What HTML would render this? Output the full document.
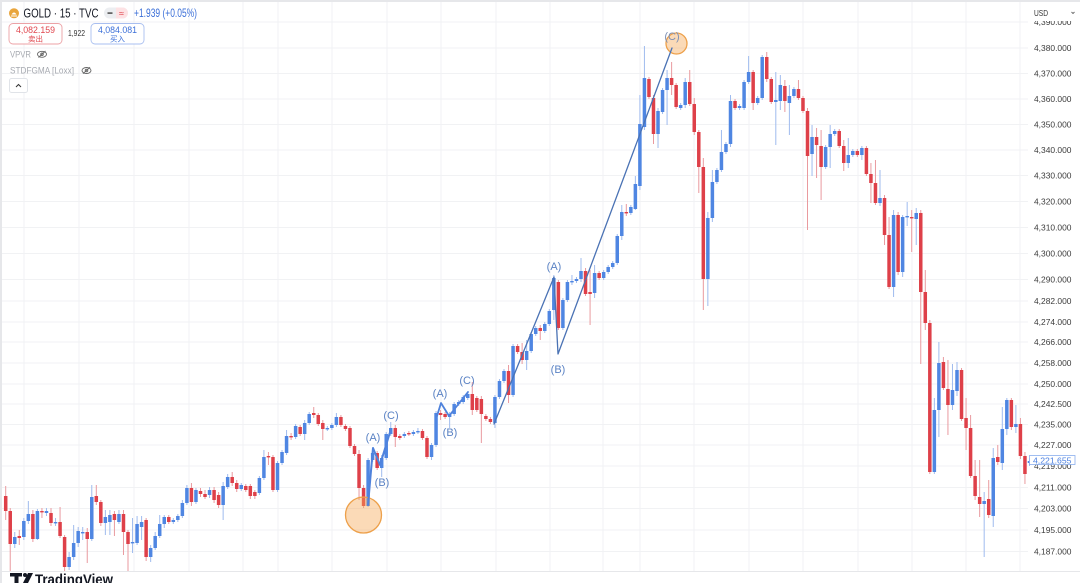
<!DOCTYPE html>
<html><head><meta charset="utf-8">
<style>
html,body{margin:0;padding:0;background:#fff;width:1080px;height:583px;overflow:hidden;}
svg{display:block;font-family:"Liberation Sans","Noto Sans CJK SC",sans-serif;}
</style></head><body>
<svg id="c" width="1080" height="583" viewBox="0 0 1080 583" xmlns="http://www.w3.org/2000/svg">
<rect width="1080" height="583" fill="#fff"/>
<g stroke="#f1f2f4" stroke-width="1">
<line x1="0" x2="1028" y1="22" y2="22"/><line x1="0" x2="1028" y1="48" y2="48"/><line x1="0" x2="1028" y1="73.5" y2="73.5"/><line x1="0" x2="1028" y1="99" y2="99"/><line x1="0" x2="1028" y1="124.5" y2="124.5"/><line x1="0" x2="1028" y1="150" y2="150"/><line x1="0" x2="1028" y1="175.5" y2="175.5"/><line x1="0" x2="1028" y1="201.5" y2="201.5"/><line x1="0" x2="1028" y1="227.5" y2="227.5"/><line x1="0" x2="1028" y1="253.5" y2="253.5"/><line x1="0" x2="1028" y1="279.5" y2="279.5"/><line x1="0" x2="1028" y1="301" y2="301"/><line x1="0" x2="1028" y1="322" y2="322"/><line x1="0" x2="1028" y1="342" y2="342"/><line x1="0" x2="1028" y1="363" y2="363"/><line x1="0" x2="1028" y1="384" y2="384"/><line x1="0" x2="1028" y1="404" y2="404"/><line x1="0" x2="1028" y1="424.5" y2="424.5"/><line x1="0" x2="1028" y1="445" y2="445"/><line x1="0" x2="1028" y1="466" y2="466"/><line x1="0" x2="1028" y1="487.5" y2="487.5"/><line x1="0" x2="1028" y1="508.5" y2="508.5"/><line x1="0" x2="1028" y1="530" y2="530"/><line x1="0" x2="1028" y1="551.5" y2="551.5"/>
<line y1="0" y2="571" x1="24" x2="24"/><line y1="0" y2="571" x1="79" x2="79"/><line y1="0" y2="571" x1="134" x2="134"/><line y1="0" y2="571" x1="189" x2="189"/><line y1="0" y2="571" x1="243" x2="243"/><line y1="0" y2="571" x1="278" x2="278"/><line y1="0" y2="571" x1="332" x2="332"/><line y1="0" y2="571" x1="387" x2="387"/><line y1="0" y2="571" x1="441" x2="441"/><line y1="0" y2="571" x1="496" x2="496"/><line y1="0" y2="571" x1="550" x2="550"/><line y1="0" y2="571" x1="603" x2="603"/><line y1="0" y2="571" x1="640" x2="640"/><line y1="0" y2="571" x1="694" x2="694"/><line y1="0" y2="571" x1="749" x2="749"/><line y1="0" y2="571" x1="803" x2="803"/><line y1="0" y2="571" x1="858" x2="858"/><line y1="0" y2="571" x1="912" x2="912"/><line y1="0" y2="571" x1="966" x2="966"/><line y1="0" y2="571" x1="1020" x2="1020"/>
</g>
<g id="candles"></g>

<!-- annotations -->
<circle cx="363.5" cy="515" r="18" fill="rgba(246,168,84,0.42)" stroke="#eda04a" stroke-width="1.3"/>
<circle cx="676.5" cy="43.5" r="10.5" fill="rgba(246,168,84,0.42)" stroke="#eda04a" stroke-width="1.3"/>
<g fill="none" stroke-linejoin="round" stroke-linecap="round">
<polyline points="368,505 373,448 380,465 391,429" stroke="#4f82dc" stroke-width="2"/>
<polyline points="437,416 441,403 449,416 468,392" stroke="#4f82dc" stroke-width="1.8"/>
<polyline points="494,424 554,277 558,354 672,48" stroke="#4a72b4" stroke-width="1.3"/>
</g>
<g font-size="11" fill="#5a82c4" text-anchor="middle">
<text x="373" y="441">(A)</text><text x="382" y="486">(B)</text><text x="391" y="419">(C)</text>
<text x="440" y="397">(A)</text><text x="450" y="436">(B)</text><text x="467" y="384">(C)</text>
<text x="554" y="270">(A)</text><text x="558" y="373">(B)</text>
<text x="672" y="40" fill="#7c8fb4">(C)</text>
</g>

<!-- borders -->
<rect x="0" y="0" width="1080" height="2" fill="#e6e7ea"/>
<rect x="0" y="0" width="2" height="583" fill="#e6e7ea"/>
<line x1="0" x2="1080" y1="571.5" y2="571.5" stroke="#e6e7ea"/>

<!-- price axis labels -->
<g font-size="8.5" fill="#3c3c3c">
<text x="1034" y="25" textLength="37.5" lengthAdjust="spacingAndGlyphs">4,390.000</text>
<text x="1034" y="51" textLength="37.5" lengthAdjust="spacingAndGlyphs">4,380.000</text>
<text x="1034" y="76.5" textLength="37.5" lengthAdjust="spacingAndGlyphs">4,370.000</text>
<text x="1034" y="102" textLength="37.5" lengthAdjust="spacingAndGlyphs">4,360.000</text>
<text x="1034" y="127.5" textLength="37.5" lengthAdjust="spacingAndGlyphs">4,350.000</text>
<text x="1034" y="153" textLength="37.5" lengthAdjust="spacingAndGlyphs">4,340.000</text>
<text x="1034" y="178.5" textLength="37.5" lengthAdjust="spacingAndGlyphs">4,330.000</text>
<text x="1034" y="204.5" textLength="37.5" lengthAdjust="spacingAndGlyphs">4,320.000</text>
<text x="1034" y="230.5" textLength="37.5" lengthAdjust="spacingAndGlyphs">4,310.000</text>
<text x="1034" y="256.5" textLength="37.5" lengthAdjust="spacingAndGlyphs">4,300.000</text>
<text x="1034" y="282.5" textLength="37.5" lengthAdjust="spacingAndGlyphs">4,290.000</text>
<text x="1034" y="304" textLength="37.5" lengthAdjust="spacingAndGlyphs">4,282.000</text>
<text x="1034" y="325" textLength="37.5" lengthAdjust="spacingAndGlyphs">4,274.000</text>
<text x="1034" y="345" textLength="37.5" lengthAdjust="spacingAndGlyphs">4,266.000</text>
<text x="1034" y="366" textLength="37.5" lengthAdjust="spacingAndGlyphs">4,258.000</text>
<text x="1034" y="387" textLength="37.5" lengthAdjust="spacingAndGlyphs">4,250.000</text>
<text x="1034" y="407" textLength="37.5" lengthAdjust="spacingAndGlyphs">4,242.500</text>
<text x="1034" y="427.5" textLength="37.5" lengthAdjust="spacingAndGlyphs">4,235.000</text>
<text x="1034" y="448" textLength="37.5" lengthAdjust="spacingAndGlyphs">4,227.000</text>
<text x="1034" y="469" textLength="37.5" lengthAdjust="spacingAndGlyphs">4,219.000</text>
<text x="1034" y="490.5" textLength="37.5" lengthAdjust="spacingAndGlyphs">4,211.000</text>
<text x="1034" y="511.5" textLength="37.5" lengthAdjust="spacingAndGlyphs">4,203.000</text>
<text x="1034" y="533" textLength="37.5" lengthAdjust="spacingAndGlyphs">4,195.000</text>
<text x="1034" y="554.5" textLength="37.5" lengthAdjust="spacingAndGlyphs">4,187.000</text>
</g>
<rect x="1029.5" y="455.5" width="45.5" height="9" fill="#fff" stroke="#8aaeee" stroke-width="0.8"/>
<text x="1033" y="463.3" font-size="8.5" fill="#4a7fe0" textLength="38.5" lengthAdjust="spacingAndGlyphs">4,221.655</text>

<!-- USD -->
<rect x="1030" y="4" width="47" height="17" fill="#fff"/>
<text x="1034" y="16" font-size="8" fill="#333" textLength="14" lengthAdjust="spacingAndGlyphs">USD</text>
<polyline points="1071.5,12 1073,13.5 1074.5,12" fill="none" stroke="#666" stroke-width="0.9"/>

<!-- header -->
<circle cx="14" cy="13.3" r="5" fill="#e9a53c"/>
<path d="M11 15.5 h6 v1 h-6z M11.5 14.5 q2.5 -4 5 0 z" fill="#fff"/>
<text x="23.5" y="17.5" font-size="12.5" fill="#131722" textLength="75" lengthAdjust="spacingAndGlyphs">GOLD · 15 · TVC</text>
<rect x="104" y="7.5" width="24" height="11" rx="5.5" fill="#eceef1"/>
<path d="M116 7.5 h6.5 a5.5 5.5 0 0 1 0 11 h-6.5z" fill="#fde2e4"/>
<rect x="107.5" y="12.3" width="5" height="1.6" fill="#555"/>
<text x="121.5" y="16.3" font-size="9" fill="#e0464e" text-anchor="middle">≈</text>
<text x="134" y="17" font-size="12" fill="#3b6fd8" textLength="63" lengthAdjust="spacingAndGlyphs">+1.939 (+0.05%)</text>

<rect x="9" y="23.5" width="53" height="20.5" rx="4" fill="#fff" stroke="#eca2a6" stroke-width="0.9"/>
<text x="35.5" y="32.8" font-size="9.5" fill="#e0464e" text-anchor="middle" textLength="39" lengthAdjust="spacingAndGlyphs">4,082.159</text>
<text x="35.5" y="41.5" font-size="7.5" fill="#e0464e" text-anchor="middle">卖出</text>
<text x="68" y="36" font-size="8" fill="#333" textLength="17" lengthAdjust="spacingAndGlyphs">1,922</text>
<rect x="91" y="23.5" width="53" height="20.5" rx="4" fill="#fff" stroke="#a9bff0" stroke-width="0.9"/>
<text x="117.5" y="32.8" font-size="9.5" fill="#3b6fd8" text-anchor="middle" textLength="39" lengthAdjust="spacingAndGlyphs">4,084.081</text>
<text x="117.5" y="41.5" font-size="7.5" fill="#3b6fd8" text-anchor="middle">买入</text>

<text x="10" y="57.5" font-size="9" fill="#a6a9b0" textLength="21" lengthAdjust="spacingAndGlyphs">VPVR</text>
<g fill="none" stroke="#666" stroke-width="0.9">
<ellipse cx="42" cy="54.3" rx="4.5" ry="3"/><circle cx="42" cy="54.3" r="1.3"/><line x1="38.5" y1="57.5" x2="45.5" y2="51"/>
<ellipse cx="86.5" cy="70.5" rx="4.5" ry="3"/><circle cx="86.5" cy="70.5" r="1.3"/><line x1="83" y1="73.7" x2="90" y2="67.2"/>
</g>
<text x="10" y="73.5" font-size="9" fill="#a6a9b0" textLength="64" lengthAdjust="spacingAndGlyphs">STDFGMA [Loxx]</text>
<rect x="9.5" y="78.5" width="18" height="14" rx="2" fill="#fff" stroke="#e0e3e8"/>
<polyline points="16,87 18.5,84.5 21,87" fill="none" stroke="#333" stroke-width="1"/>

<!-- TradingView logo -->
<rect x="10" y="573" width="12" height="3.5" fill="#131722"/>
<rect x="14.5" y="573" width="4" height="10" fill="#131722"/>
<circle cx="25" cy="575" r="2" fill="#131722"/>
<polygon points="28,573 33,573 28,583 23,583" fill="#131722"/>
<text x="35" y="584.5" font-size="15" font-weight="bold" fill="#131722" textLength="78" lengthAdjust="spacingAndGlyphs">TradingView</text>
</svg>
<script>
(function(){
var D=[
['r',496,511,486,520],['r',511,544,508,572],['b',537,544,532,548],['r',536,538,530,545],['b',521,537,518,540],
['b',514,521,501,524],['r',514,539,510,542],['b',511,539,509,540],['r',511,512,508,518],['b',511,513,508,516],
['r',513,523,508,526],['b',522,523,518,526],['r',522,536,507,538],['r',537,567,535,572],['b',557,567,552,570],
['b',543,557,525,560],['b',531,543,527,547],['b',532,533,527,540],['r',532,539,528,563],['b',497,539,485,541],
['r',496,502,485,505],['r',502,523,500,526],['b',517,523,510,535],['b',515,522,510,535],['r',514,520,511,536],
['b',514,522,510,524],['r',514,532,510,555],['r',532,544,530,572],['b',542,543,518,553],['b',524,543,516,545],
['b',522,527,516,540],['r',520,557,518,561],['b',548,557,545,562],['b',536,548,532,550],['b',524,536,515,538],
['b',517,524,515,528],['r',517,522,515,524],['b',520,522,518,524],['b',516,520,514,522],['b',503,516,500,518],
['b',488,503,485,505],['r',488,502,483,506],['b',490,502,488,504],['r',491,494,488,497],['r',494,497,490,499],
['b',490,495,487,498],['r',490,500,487,503],['r',495,505,492,508],['b',486,505,482,520],['b',477,487,474,489],
['r',477,483,472,486],['r',483,489,480,492],['b',485,489,483,491],['r',486,490,484,492],['r',486,496,484,499],
['r',492,496,490,499],['b',478,493,476,495],['b',457,478,450,480],['r',456,457,452,465],['r',457,490,455,492],
['b',463,490,461,492],['b',452,463,450,465],['b',436,453,430,455],['r',436,437,433,440],['b',426,437,424,439],
['r',427,434,425,436],['b',423,434,420,440],['b',414,423,412,425],['r',413,415,407,418],['r',415,424,413,426],
['r',423,429,420,440],['b',428,429,426,431],['b',425,428,423,430],['b',417,425,413,427],['r',417,425,415,427],
['r',426,429,424,431],['r',428,446,426,448],['r',446,454,444,456],['r',454,488,450,500],['r',488,506,485,508],
['b',460,506,458,507],['b',453,460,451,462],['r',453,468,451,470],['b',458,468,455,477],['b',434,458,432,460],
['b',428,434,422,436],['r',428,437,425,447],['r',436,438,434,440],['b',434,436,432,438],['r',433,434,431,436],
['b',432,434,430,436],['b',431,432,428,434],['r',431,438,429,440],['r',438,457,436,459],['b',445,457,443,460],
['b',413,445,411,447],['r',413,415,410,420],['r',414,417,412,419],['b',414,417,412,428],['b',404,414,402,416],
['b',402,404,400,406],['b',397,402,395,404],['b',394,398,392,400],['r',394,410,382,415],['r',398,410,396,412],
['r',399,414,396,443],['r',416,419,414,421],['r',419,422,417,424],['b',397,423,395,428],['b',381,397,379,399],
['b',371,381,369,383],['r',371,395,365,403],['b',346,395,344,397],['r',346,352,344,354],['r',352,360,343,364],
['b',351,360,340,370],['b',334,351,332,353],['b',328,334,326,336],['r',328,331,325,340],['b',324,331,322,333],
['b',311,324,309,326],['b',278,310,275,320],['r',282,328,280,330],['b',300,328,298,330],['b',282,300,280,302],
['b',281,282,275,285],['b',279,281,277,283],['b',271,279,258,282],['r',271,294,268,296],['r',292,294,270,325],
['b',273,293,265,298],['r',273,278,271,280],['b',272,278,270,280],['b',267,272,265,274],['b',263,267,261,269],
['b',236,263,234,265],['b',212,236,205,240],['r',212,213,204,216],['b',207,213,205,215],['b',184,209,176,210],
['b',124,186,95,190],['b',78,127,46,130],['r',79,97,77,99],['r',98,134,95,144],['b',111,134,108,148],
['b',90,112,88,114],['b',78,90,70,125],['r',78,85,62,95],['r',85,107,83,109],['b',105,108,103,110],
['b',82,105,78,108],['r',82,104,70,106],['r',104,132,98,135],['r',132,167,130,193],['r',167,279,158,310],
['b',218,279,212,306],['b',182,218,170,222],['b',170,182,168,184],['b',152,170,130,172],['b',144,152,142,154],
['b',101,144,95,147],['r',101,108,99,110],['b',106,108,104,110],['b',82,108,80,110],['b',72,82,56,84],
['r',72,103,70,110],['b',98,103,96,105],['b',57,98,55,100],['r',57,79,52,82],['r',79,102,77,104],
['b',100,102,72,145],['b',85,101,75,110],['r',86,101,80,112],['b',96,103,85,135],['b',89,96,87,98],
['r',89,98,80,100],['r',98,111,96,113],['r',111,156,108,230],['b',137,154,125,176],['r',137,145,128,178],
['r',146,167,130,200],['b',147,167,145,169],['b',134,147,125,168],['b',131,134,129,136],['r',131,146,129,148],
['r',146,163,140,171],['b',155,163,138,168],['b',151,155,149,157],['r',151,155,149,157],['b',148,155,146,160],
['r',148,174,146,176],['r',174,183,163,203],['r',183,203,160,205],['b',198,203,170,206],['r',198,235,195,245],
['r',235,287,217,289],['b',215,287,210,297],['r',215,272,212,275],['b',217,272,215,277],['b',216,217,202,226],
['r',217,218,210,252],['b',213,219,208,245],['r',213,292,210,364],['r',292,323,270,330],['r',323,472,320,474],
['b',410,472,398,474],['b',363,410,342,437],['r',362,388,357,390],['r',389,405,360,435],['b',390,405,364,410],
['b',370,391,362,396],['r',370,419,368,421],['r',418,428,398,450],['r',428,476,415,478],['r',476,496,460,500],
['r',497,504,460,517],['b',501,504,492,557],['r',499,515,480,518],['b',458,516,448,527],['r',457,462,445,465],
['b',429,463,407,470],['b',400,429,398,435],['r',400,427,398,430],['b',424,427,405,433],['r',424,456,418,459],
['r',456,474,452,484],['b',461,463,458,466]
];
var g=document.getElementById('candles'),s='';
for(var i=0;i<D.length;i++){
 var d=D[i],cx=5.7+4.53*i,isB=d[0]==='b';
 var bTop=d[1],bBot=d[2],wHi=d[3],wLo=d[4];
 if(bBot-bTop<1.4){bBot=bTop+1.4;}
 var wc=isB?'#9fbbee':'#e99a9f',bc=isB?'#4f86e2':'#de4049';
 s+='<line x1="'+cx.toFixed(2)+'" x2="'+cx.toFixed(2)+'" y1="'+wHi+'" y2="'+wLo+'" stroke="'+wc+'" stroke-width="1"/>';
 s+='<rect x="'+(cx-1.75).toFixed(2)+'" y="'+bTop+'" width="3.5" height="'+(bBot-bTop).toFixed(2)+'" fill="'+bc+'"/>';
}
g.innerHTML=s;
})();
</script>
</body></html>
